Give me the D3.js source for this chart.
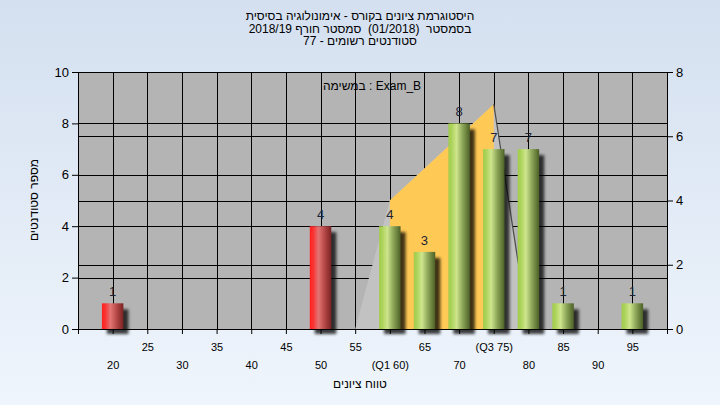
<!DOCTYPE html>
<html><head><meta charset="utf-8">
<script src="https://cdn.jsdelivr.net/npm/d3@7"></script>
<style>body{margin:0;background:#fff;} svg{display:block;} text{white-space:pre;}</style>
</head><body>
<svg id="c" width="720" height="405"></svg>
<script>
// ---- data ----
const titleLines = ["היסטוגרמת ציונים בקורס - אימונולוגיה בסיסית", "בסמסטר  (01/2018)  סמסטר חורף 2018/19", "סטודנטים רשומים - 77"];
const taskLabel = "במשימה : Exam_B";
const xTitle = "טווח ציונים";
const yTitle = "מספר סטודנטים";
const bins = [20,25,30,35,40,45,50,55,60,65,70,75,80,85,90,95];
const counts = [1,0,0,0,0,0,4,0,4,3,8,7,7,1,0,1];
const binLabels = ["20","25","30","35","40","45","50","55","(Q1 60)","65","70","(Q3 75)","80","85","90","95"];
const passMark = 55;
const leftTicks = [0,2,4,6,8,10];
const rightTicks = [0,2,4,6,8];
const distX = [55,60,75,80];
const distY = [0,4,7,0];
const q1 = 60, q3 = 75;

// ---- layout ----
const svg = d3.select("#c");
const W = 720, H = 405;
const L = 78, R = 667, T = 72, B = 329;
const x = d3.scaleLinear().domain([15,100]).range([L,R]);
const yL = d3.scaleLinear().domain([0,10]).range([B,T]);
const yR = d3.scaleLinear().domain([0,8]).range([B,T]);
const font = "'Liberation Sans', Arial, sans-serif";

const defs = svg.append("defs");
const bg = defs.append("linearGradient").attr("id","bg").attr("x1",0).attr("y1",0).attr("x2",0).attr("y2",1);
bg.append("stop").attr("offset",0).attr("stop-color","#d4e0f0");
bg.append("stop").attr("offset",1).attr("stop-color","#eff5fc");

function grad(id, stops){
  const g = defs.append("linearGradient").attr("id",id).attr("x1",0).attr("y1",0).attr("x2",1).attr("y2",0);
  stops.forEach(s=>g.append("stop").attr("offset",s[0]).attr("stop-color",s[1]));
}
grad("gRed",[[0,"#ff2020"],[0.15,"#fb3030"],[0.4,"#e27474"],[0.7,"#b44646"],[1,"#7a2222"]]);
grad("gGreen",[[0,"#a2cc4c"],[0.15,"#acd35a"],[0.38,"#cfe58e"],[0.65,"#8ea85a"],[1,"#4c6026"]]);
const f = defs.append("filter").attr("id","sh").attr("x","-50%").attr("y","-50%").attr("width","200%").attr("height","200%");
f.append("feGaussianBlur").attr("stdDeviation",1.8);

svg.append("rect").attr("width",W).attr("height",H).attr("fill","url(#bg)");

// plot background
svg.append("rect").attr("x",L).attr("y",T).attr("width",R-L).attr("height",B-T).attr("fill","#b4b4b4");

// gridlines
const grid = svg.append("g").attr("stroke","#000").attr("stroke-width",1);
leftTicks.forEach(t=>{ const yy=Math.round(yL(t))+0.5; grid.append("line").attr("x1",L).attr("x2",R).attr("y1",yy).attr("y2",yy); });
rightTicks.forEach(t=>{ const yy=Math.round(yR(t))+0.5; grid.append("line").attr("x1",L).attr("x2",R).attr("y1",yy).attr("y2",yy); });
bins.forEach(b=>{ const xx=Math.round(x(b))+0.5; grid.append("line").attr("x1",xx).attr("x2",xx).attr("y1",T).attr("y2",B); });

// distribution area (right axis)
const pts = distX.map((d,i)=>[d,distY[i]]);
const area = d3.area().x(d=>x(d[0])).y0(yR(0)).y1(d=>yR(d[1]));
svg.append("path").datum(pts).attr("d",area).attr("fill","#c2c2c2");
function interp(v){ for(let i=0;i<distX.length-1;i++){ if(v>=distX[i]&&v<=distX[i+1]){ const t=(v-distX[i])/(distX[i+1]-distX[i]); return distY[i]+t*(distY[i+1]-distY[i]); } } return 0; }
const iq = [[q1,interp(q1)]].concat(pts.filter(p=>p[0]>q1&&p[0]<q3)).concat([[q3,interp(q3)]]);
svg.append("path").datum(iq).attr("d",area).attr("fill","#ffc955");
const line = d3.line().x(d=>x(d[0])).y(d=>yR(d[1]));
svg.append("path").datum(pts.slice(2)).attr("d",line).attr("fill","none").attr("stroke","#4a4a4a").attr("stroke-width",1.2);

// bars
const bw = 1.55;
const data = bins.map((b,i)=>({b, v:counts[i]})).filter(d=>d.v>0);
const bars = svg.append("g");
bars.selectAll(".s").data(data).join("rect").attr("class","s")
  .attr("x",d=>x(d.b-bw)+5).attr("y",d=>yL(d.v)+6)
  .attr("width",d=>x(d.b+bw)-x(d.b-bw)).attr("height",d=>yL(0)-yL(d.v)-1)
  .attr("fill","#000").attr("opacity",0.75).attr("filter","url(#sh)");
bars.selectAll(".b").data(data).join("rect").attr("class","b")
  .attr("x",d=>x(d.b-bw)).attr("y",d=>yL(d.v))
  .attr("width",d=>x(d.b+bw)-x(d.b-bw)).attr("height",d=>yL(0)-yL(d.v))
  .attr("fill",d=>d.b<passMark?"url(#gRed)":"url(#gGreen)");
bars.selectAll(".l").data(data).join("text").attr("class","l")
  .attr("x",d=>x(d.b)).attr("y",d=>yL(d.v)-7)
  .attr("text-anchor","middle").attr("font-family",font).attr("font-size",13).attr("fill","#1c2436")
  .text(d=>d.v);

// axes
const axL = svg.append("g").attr("transform",`translate(${L},0)`)
  .call(d3.axisLeft(yL).tickValues(leftTicks).tickSize(6).tickSizeOuter(0).tickPadding(3));
const axR = svg.append("g").attr("transform",`translate(${R},0)`)
  .call(d3.axisRight(yR).tickValues(rightTicks).tickSize(6).tickSizeOuter(0).tickPadding(3));
const axB = svg.append("g").attr("transform",`translate(0,${B})`)
  .call(d3.axisBottom(x).tickValues(bins).tickSize(5).tickSizeOuter(5).tickFormat((d,i)=>binLabels[i]));
[axL,axR].forEach(a=>a.selectAll("text").attr("font-family",font).attr("font-size",13).attr("fill","#000"));
axB.selectAll("text").attr("font-family",font).attr("font-size",11).attr("fill","#000")
  .attr("dy",null).attr("y",(d,i)=>i%2===1?22:40);
svg.selectAll(".domain, .tick line").attr("stroke","#000");

// texts
const tt = svg.append("g").attr("font-family",font).attr("font-size",12).attr("fill","#000").attr("text-anchor","middle");
titleLines.forEach((t,i)=>tt.append("text").attr("x",360).attr("y",20+i*12.5).text(t));
tt.append("text").attr("x",372).attr("y",90).text(taskLabel);
tt.append("text").attr("x",360).attr("y",388).text(xTitle);
tt.append("text").attr("transform","translate(38,200) rotate(-90)").text(yTitle);
</script>
</body></html>
